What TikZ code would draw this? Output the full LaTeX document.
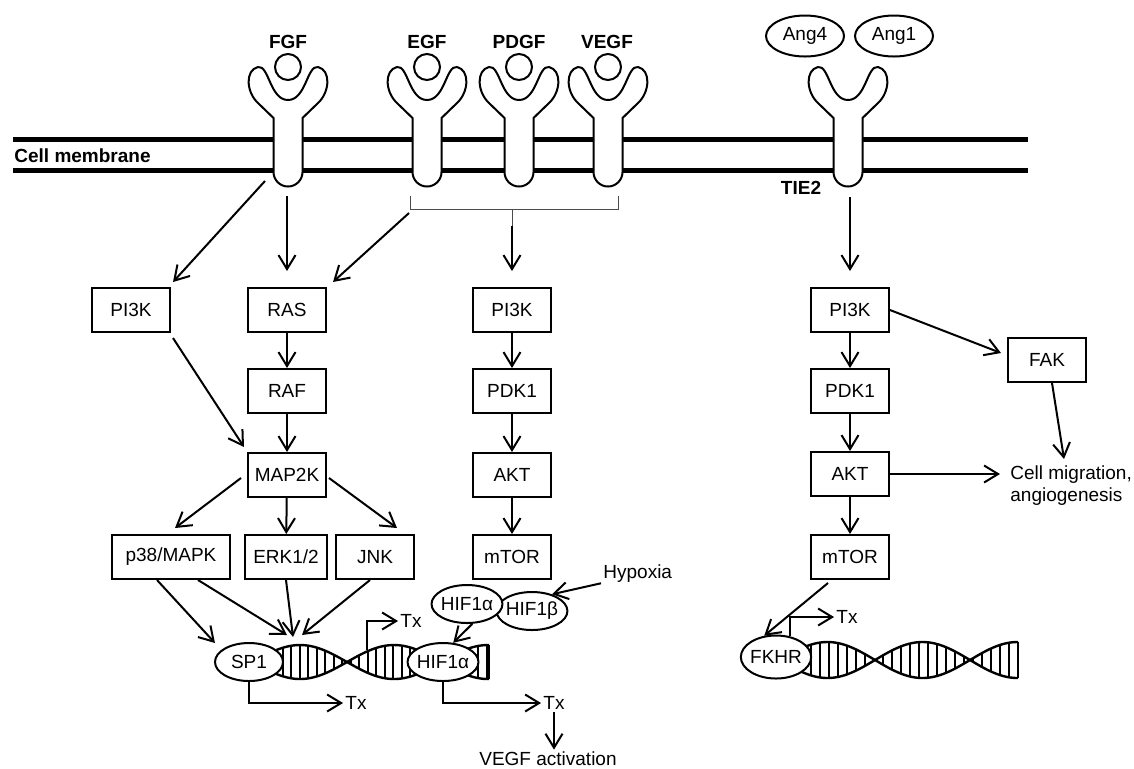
\documentclass[tikz,border=0pt]{standalone}
\usepackage{fontspec}
\setmainfont{Liberation Sans}
\usetikzlibrary{arrows.meta}
\usetikzlibrary{shapes.geometric}
\usetikzlibrary{calc}
\usetikzlibrary{positioning}

\tikzset{
 box/.style={draw, line width=1pt, minimum width=39pt, minimum height=22pt, inner sep=0pt, font=\fontsize{9.5}{11}\selectfont},
 oval/.style={draw, ellipse, line width=1pt, fill=white, minimum width=34pt, minimum height=19pt, inner xsep=-0.5pt, inner ysep=0pt, font=\fontsize{9.5}{11}\selectfont},
 arr/.style={-{Straight Barb[length=7pt,width=8.5pt]}, line width=1pt},
 lbl/.style={inner sep=1pt, font=\fontsize{9.5}{11}\selectfont},
 hdr/.style={inner sep=1pt, font=\fontsize{9.5}{11}\selectfont\bfseries},
 strand/.style={line width=1.2pt},
 rung/.style={line width=1pt},
}

% Y shaped receptor standing on the membrane
\newcommand{\recep}[1]{%
 \draw[line width=1pt, fill=white] (#1-14.5,118) -- (#1-14.5,172) arc[start angle=180, end angle=0, radius=14.5] -- (#1+14.5,118) -- (#1+30,103) .. controls (#1+42,92) and (#1+43,70) .. (#1+30,67) .. controls (#1+19,65) and (#1+18,100) .. (#1,100) .. controls (#1-18,100) and (#1-19,65) .. (#1-30,67) .. controls (#1-43,70) and (#1-42,92) .. (#1-30,103) -- cycle;}

\begin{document}
\begin{tikzpicture}[x=0.5pt, y=-0.5pt]
 \useasboundingbox (0,0) rectangle (1134,768);

 % membrane
 \draw[line width=2.5pt] (13,139) -- (1028,139);
 \draw[line width=2.5pt] (13,170) -- (1028,170);
 \node[hdr, anchor=west] (cellmem) at (12,156) {Cell membrane};

 % receptors and ligands
 \recep{288} \recep{427} \recep{519} \recep{608} \recep{848}
 \foreach \cx in {288,427,519,608} \draw[line width=1pt, fill=white] (\cx,67) circle[radius=13];
 \node[hdr] (fgf) at (288,42) {FGF};
 \node[hdr] (egf) at (427,42) {EGF};
 \node[hdr] (pdgf) at (519,42) {PDGF};
 \node[hdr] (vegf) at (607,42) {VEGF};
 \node[hdr] (tie) at (801,188) {TIE2};
 \node[oval, minimum width=39pt, minimum height=20.5pt] (ang4) at (805,36) {Ang4};
 \node[oval, minimum width=39pt, minimum height=20.5pt] (ang1) at (894,36) {Ang1};

 % bracket under EGF, PDGF, VEGF
 \draw[line width=0.5pt, black!70] (410,196) -- (410,209) -- (618,209) -- (618,196);
 \draw[line width=0.5pt, black!70] (512,209) -- (512,226);

 % left pathway
 \node[box] (pil) at (131,310) {PI3K};
 \node[box] (ras) at (287,310) {RAS};
 \node[box] (raf) at (287,391) {RAF};
 \node[box] (map) at (287,475) {MAP2K};
 \node[box, minimum width=59pt] (p38) at (171,557) {p38/MAPK};
 \node[box, minimum width=41pt] (erk) at (286,557) {ERK1/2};
 \node[box] (jnk) at (375,557) {JNK};

 % middle pathway
 \node[box] (pim) at (512,310) {PI3K};
 \node[box] (pdkm) at (512,391) {PDK1};
 \node[box] (aktm) at (512,475) {AKT};
 \node[box] (mtorm) at (512,557) {mTOR};

 % right pathway
 \node[box] (pir) at (850,310) {PI3K};
 \node[box] (pdkr) at (850,391) {PDK1};
 \node[box] (aktr) at (850,474) {AKT};
 \node[box] (mtorr) at (850,557) {mTOR};
 \node[box] (fak) at (1047,360) {FAK};
 \node[lbl, anchor=north west, align=left] (cellmig) at (1008,463) {Cell migration,\\angiogenesis};

 \coordinate (fgfl) at (265,181);
 \coordinate (fgfb) at (287,196);
 \coordinate (brkl) at (409,213);
 \coordinate (brkc) at (512,226);
 \coordinate (tieb) at (850,197);
 \coordinate (cmtop) at (1064,459);

 \draw[arr] (fgfl) -- ([shift={(1pt,2.5pt)}]pil.north east);
 \draw[arr] (fgfb) -- ([yshift=8pt]ras.north);
 \draw[arr] (brkl) -- ([shift={(3pt,2.5pt)}]ras.north east);
 \draw[arr] (brkc) -- ([yshift=8pt]pim.north);
 \draw[arr] (tieb) -- ([yshift=8pt]pir.north);

 \draw[arr] (ras) -- (raf);
 \draw[arr] (raf) -- (map);
 \draw[arr] ([shift={(1pt,-2.5pt)}]pil.south east) -- ([shift={(-1.5pt,2.5pt)}]map.north west);
 \draw[arr] ([shift={(-3pt,-1.5pt)}]map.west) -- ([shift={(2pt,3pt)}]p38.north);
 \draw[arr] (map) -- (erk);
 \draw[arr] ([shift={(1pt,-1.5pt)}]map.east) -- ([shift={(11pt,3pt)}]jnk.north);

 \draw[arr] (pim) -- (pdkm);
 \draw[arr] (pdkm) -- (aktm);
 \draw[arr] (aktm) -- (mtorm);

 \draw[arr] (pir) -- (pdkr);
 \draw[arr] (pdkr) -- (aktr);
 \draw[arr] (aktr) -- (mtorr);
 \draw[arr] (pir.east) -- ([shift={(-3pt,3.5pt)}]fak.west);
 \draw[arr] (aktr.east) -- ([xshift=-4pt]aktr.east -| cellmig.west);
 \draw[arr] ([xshift=2.5pt]fak.south) -- (cmtop);

 % left DNA
 \draw[strand] plot[domain=253:489, samples=90] (\x, {662-17*sin(1.9149*(\x-253))});
 \draw[strand] plot[domain=253:489, samples=90] (\x, {662+17*sin(1.9149*(\x-253))});
 \foreach \x in {257,265.5,...,488} \draw[rung] (\x, {662-17*sin(1.9149*(\x-253))}) -- (\x, {662+17*sin(1.9149*(\x-253))});
 \draw[rung] (489,645) -- (489,679);

 % right DNA
 \draw[strand] plot[domain=780:1018, samples=90] (\x, {660-18*sin(1.8947*(\x-780))});
 \draw[strand] plot[domain=780:1018, samples=90] (\x, {660+18*sin(1.8947*(\x-780))});
 \foreach \x in {784,793,...,1016} \draw[rung] (\x, {660-18*sin(1.8947*(\x-780))}) -- (\x, {660+18*sin(1.8947*(\x-780))});
 \draw[rung] (1018,642) -- (1018,678);

 % transcription factors
 \node[oval] (sp1) at (249,662) {SP1};
 \node[oval] (hifb) at (443,662) {HIF1α};
 \node[oval] (hifbeta) at (532,611) {HIF1β};
 \node[oval] (hifa) at (467,604) {HIF1α};
 \node[oval, minimum height=21.5pt] (fkhr) at (776,657) {FKHR};
 \node[lbl, anchor=west] (hypoxia) at (601,574) {Hypoxia};

 \coordinate (sp1in) at (215,643);
 \coordinate (dnain1) at (287,635);
 \coordinate (dnain2) at (293,637);
 \coordinate (dnain3) at (302,635);
 \draw[arr] ([xshift=-7pt]p38.south) -- (sp1in);
 \draw[arr] ([xshift=13.5pt]p38.south) -- (dnain1);
 \draw[arr] (erk.south) -- (dnain2);
 \draw[arr] ([xshift=-2.5pt]jnk.south) -- (dnain3);
 \draw[arr] (hifa.-75) -- (hifb.62);
 \draw[arr] ([yshift=1pt]hypoxia.south west) -- (hifbeta.40);
 \draw[arr] ([shift={(-11pt,-1.5pt)}]mtorr.south) -- (fkhr.119);

 % transcription
 \node[lbl] (tx1) at (356,703) {Tx};
 \node[lbl] (tx2) at (411,621) {Tx};
 \node[lbl] (tx3) at (554,703) {Tx};
 \node[lbl] (tx4) at (847,617) {Tx};
 \node[lbl] (vegfact) at (548,759) {VEGF activation};
 \coordinate (txs) at (367,650);

 \draw[arr] (sp1.south) |- (tx1.west);
 \draw[arr] (txs) |- (tx2.west);
 \draw[arr] (hifb.south) |- (tx3.west);
 \draw[arr] (fkhr.57) |- (tx4.west);
 \draw[arr] (tx3.south) -- (tx3.south |- vegfact.north);
\end{tikzpicture}
\end{document}
